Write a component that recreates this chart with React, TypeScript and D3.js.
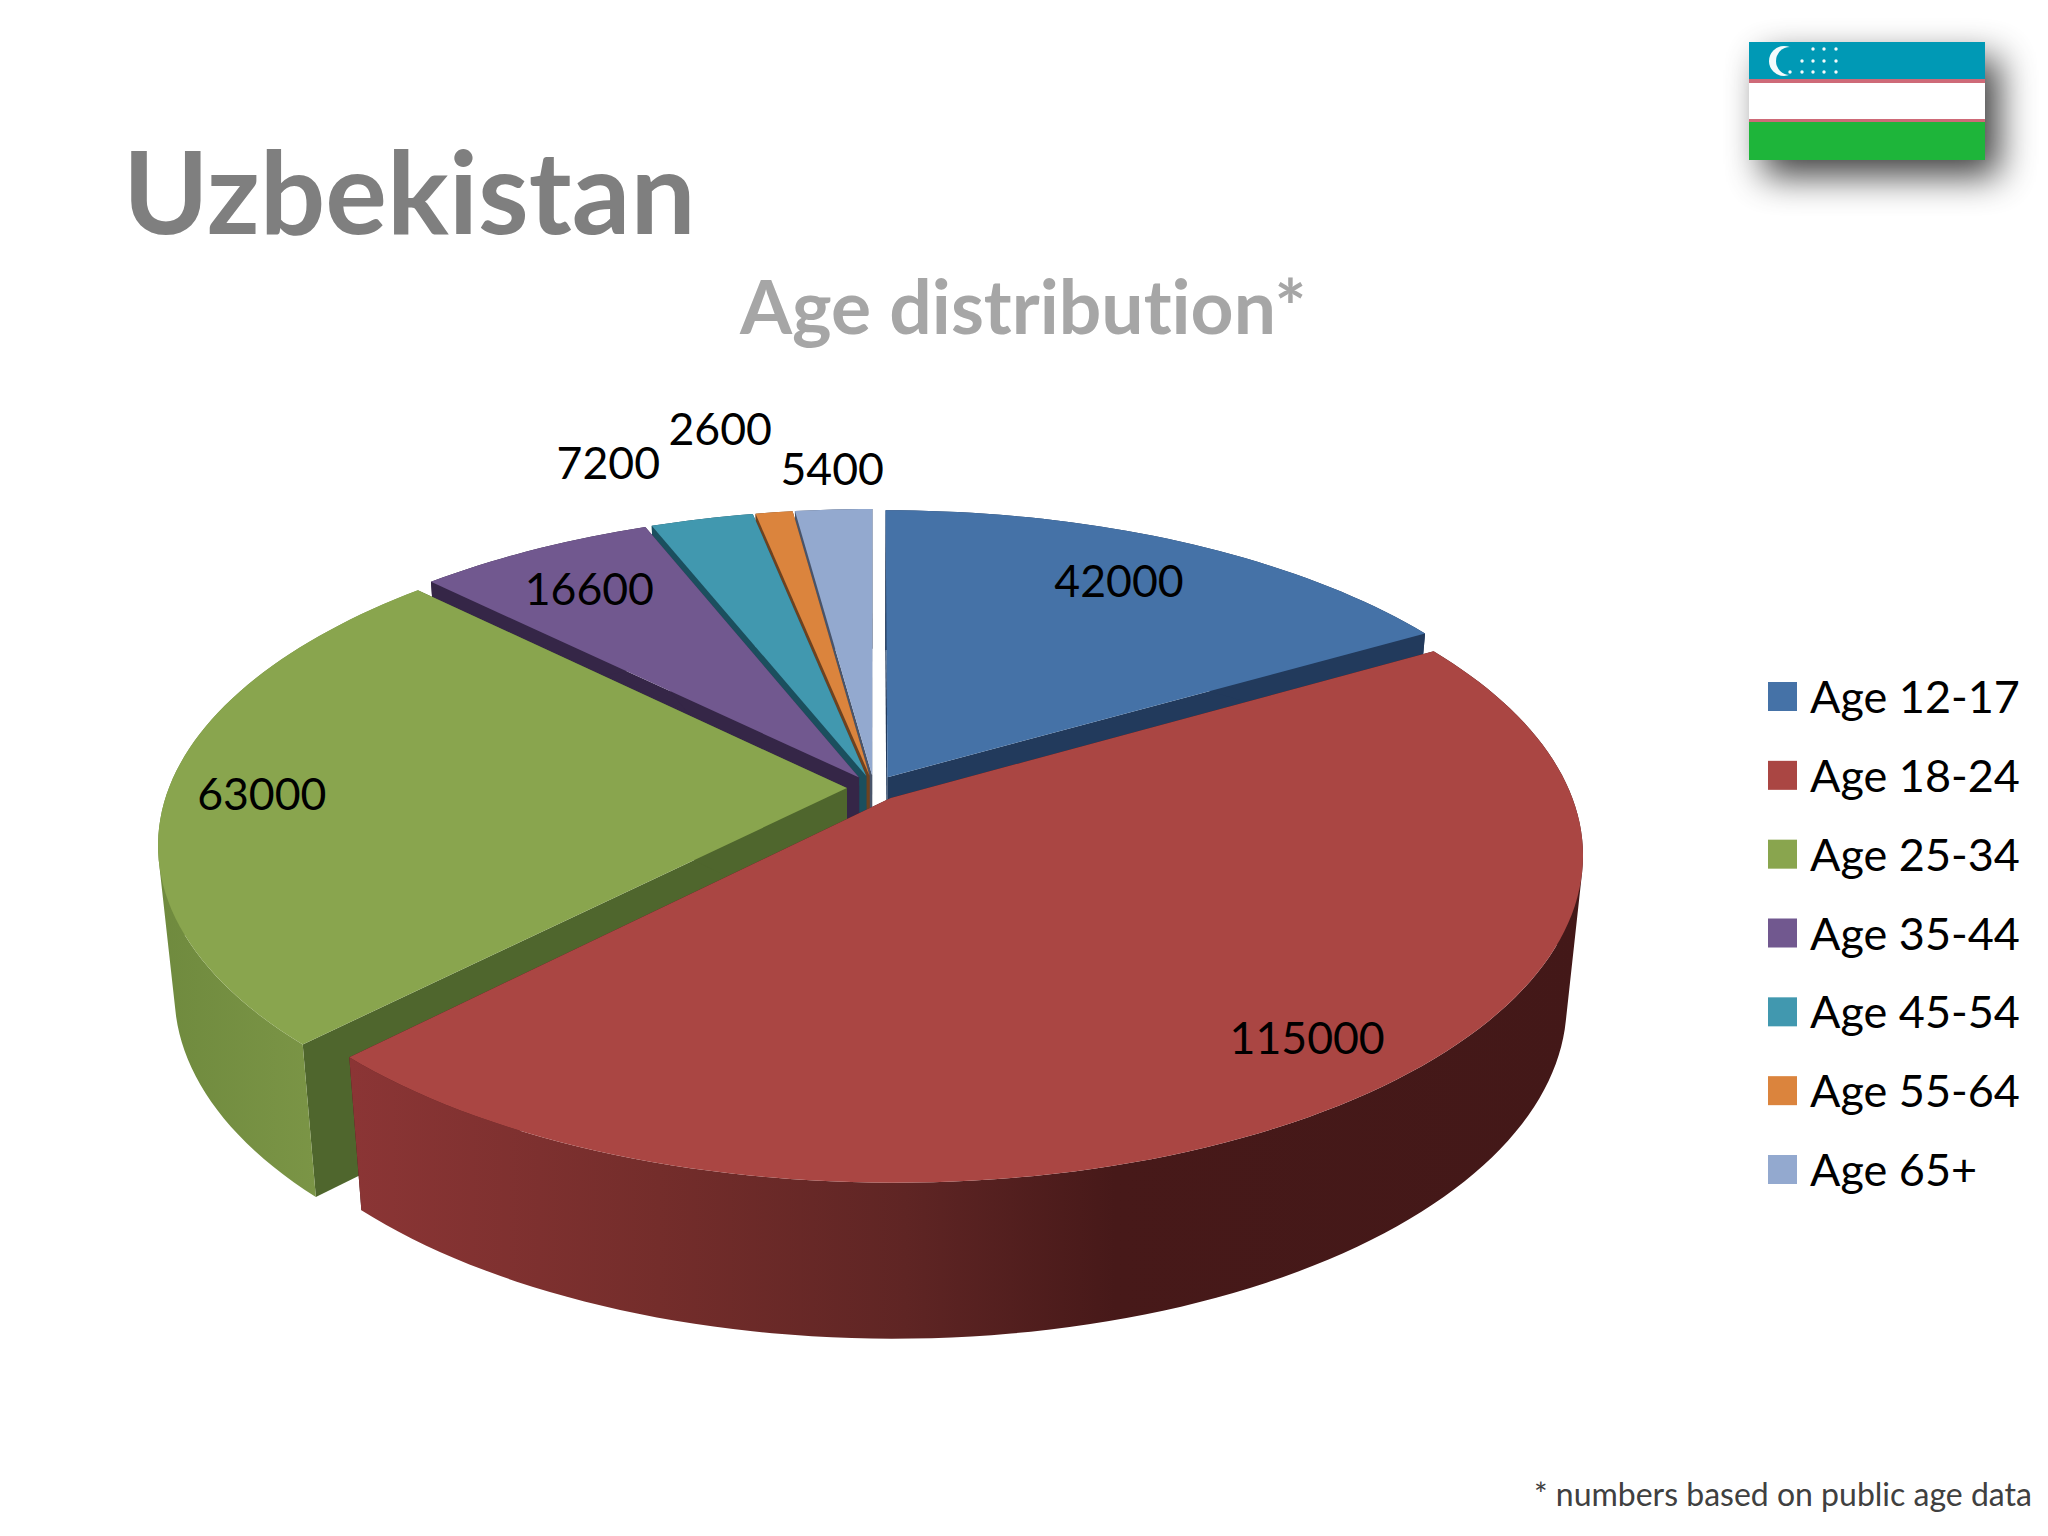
import React from 'react';
import * as d3 from 'd3';

const categories = ['Age 12-17', 'Age 18-24', 'Age 25-34', 'Age 35-44', 'Age 45-54', 'Age 55-64', 'Age 65+'];
const values = [42000, 115000, 63000, 16600, 7200, 2600, 5400];
const topColors = ['#4572a7', '#aa4643', '#89a54e', '#71588f', '#4198af', '#db843d', '#93a9cf'];
const wallColors = ['#223a5c', 'url(#redWall)', 'url(#greenWall)', '#352647', '#1b4f5e', '#6e4220', '#49546a'];
const cutColors = ['#223a5c', '#45181a', '#4f662d', '#352647', '#1b4f5e', '#6e4220', '#49546a'];

// how far along the radius each value label sits, and its nudge from there
const labelPull = [0.82, 0.84, 0.85, 0.82, 1.2, 1.2, 1.2];
const labelNudge = [[-14, 0], [19, -1], [-8, 2], [3, 1], [-66, -14], [-38, -41], [5, 2]];

// back to front, so nearer slices paint over farther ones
const paintOrder = [0, 6, 5, 4, 3, 2, 1];

const FONT = 'Lato, Carlito, Calibri, sans-serif';
const textStyle = { fontVariantLigatures: 'none' };
const cx = 874;
const cy = 788;
const rx = 678;
const ry = 315.6;
const camera = 5.89; // perspective strength of the pie plane
const explode = 0.04;

// pie plane -> screen, top face
const project = (X: number, Y: number): [number, number] => {
  const p = camera / (camera - Y);
  return [cx + rx * X * p, cy + ry * Y * p];
};

// the bottom face is the top one pushed down and pulled in a little
const lower = ([x, y]: [number, number]): [number, number] => [
  cx + (x - cx) * 0.977,
  cy + 146.5 + (y - cy) * 1.024,
];

const arcs = d3.pie<number>().sort(null).value((d) => d)(values);
const line = d3.line();

const slices = arcs.map((a, i) => {
  const mid = (a.startAngle + a.endAngle) / 2;
  const ox = explode * Math.sin(mid);
  const oy = -explode * Math.cos(mid);
  const at = (angle: number, r: number) => project(ox + r * Math.sin(angle), oy - r * Math.cos(angle));
  const steps = Math.max(4, Math.ceil((a.endAngle - a.startAngle) * 40));
  const rim = d3.range(steps + 1).map((s) => at(a.startAngle + ((a.endAngle - a.startAngle) * s) / steps, 1));
  const apex = at(0, 0);
  const top = line([apex, ...rim]) + 'Z';
  // one quad per step, all wound the same way, so the silhouette stays filled
  const outer = rim
    .slice(1)
    .map((pt, k) => {
      const quad: [number, number][] = [rim[k], pt, lower(pt), lower(rim[k])];
      if (d3.polygonArea(quad) < 0) quad.reverse();
      return line(quad) + 'Z';
    })
    .join('');
  const startCut = line([apex, rim[0], lower(rim[0]), lower(apex)]) + 'Z';
  const endCut = line([apex, rim[steps], lower(rim[steps]), lower(apex)]) + 'Z';
  const [lx, ly] = at(mid, labelPull[i]);
  return {
    top,
    outer,
    startCut,
    endCut,
    labelX: lx + labelNudge[i][0],
    labelY: ly + labelNudge[i][1],
  };
});

const legendY = d3.scalePoint<string>().domain(categories).range([696, 1169]);

const starRows = [
  { y: 49, xs: [1813, 1824, 1836] },
  { y: 61, xs: [1802, 1813, 1824, 1836] },
  { y: 72, xs: [1790, 1802, 1813, 1824, 1836] },
];

const Flag = () => (
  <g>
    <rect x={1763} y={58} width={236} height={118} fill="#000" opacity={0.75} filter="url(#flagShadow)" />
    <rect x={1749} y={42} width={236} height={37} fill="#0099b5" />
    <rect x={1749} y={79} width={236} height={4} fill="#ce6a78" />
    <rect x={1749} y={83} width={236} height={36} fill="#fff" />
    <rect x={1749} y={119} width={236} height={3} fill="#ce6a78" />
    <rect x={1749} y={122} width={236} height={38} fill="#1eb53a" />
    <circle cx={1784} cy={61} r={15} fill="#f4fbfc" />
    <circle cx={1790} cy={61} r={14} fill="#0099b5" />
    {starRows.map((row) =>
      row.xs.map((x) => <circle key={`${x}-${row.y}`} cx={x} cy={row.y} r={1.7} fill="#f4fbfc" />)
    )}
  </g>
);

export default function App() {
  return (
    <svg
      width={2048}
      height={1536}
      viewBox="0 0 2048 1536"
      style={{ position: 'absolute', left: 0, top: 0, background: '#fff' }}
    >
      <defs>
        <linearGradient id="redWall" gradientUnits="userSpaceOnUse" x1={352} x2={1583} y1={0} y2={0}>
          <stop offset="0" stopColor="#8b3535" />
          <stop offset="0.25" stopColor="#742d2b" />
          <stop offset="0.45" stopColor="#5f2524" />
          <stop offset="0.62" stopColor="#471919" />
          <stop offset="1" stopColor="#431818" />
        </linearGradient>
        <linearGradient id="greenWall" gradientUnits="userSpaceOnUse" x1={157} x2={320} y1={0} y2={0}>
          <stop offset="0" stopColor="#6f8a3e" />
          <stop offset="1" stopColor="#7b9546" />
        </linearGradient>
        <filter id="flagShadow" x="-30%" y="-60%" width="160%" height="220%">
          <feGaussianBlur stdDeviation="18" />
        </filter>
      </defs>

      <text x={123} y={234} fontFamily={FONT} fontWeight={700} fontSize={115.5} fill="#7f7f7f" style={textStyle}>
        Uzbekistan
      </text>
      <text x={740} y={334} fontFamily={FONT} fontWeight={700} fontSize={75} fill="#a6a6a6" style={textStyle}>
        Age distribution*
      </text>

      <Flag />

      {paintOrder.map((i) => (
        <g key={categories[i]}>
          <path d={slices[i].startCut} fill={cutColors[i]} />
          <path d={slices[i].endCut} fill={cutColors[i]} />
          <path d={slices[i].outer} fill={wallColors[i]} />
          <path d={slices[i].top} fill={topColors[i]} />
        </g>
      ))}

      {values.map((v, i) => (
        <text
          key={categories[i]}
          x={slices[i].labelX}
          y={slices[i].labelY}
          textAnchor="middle"
          dominantBaseline="central"
          fontFamily={FONT}
          fontSize={44.6}
          fill="#000"
        >
          {v}
        </text>
      ))}

      {categories.map((c, i) => (
        <g key={c}>
          <rect x={1768} y={legendY(c)! - 14} width={29} height={29} fill={topColors[i]} />
          <text x={1810} y={legendY(c)!} dominantBaseline="central" fontFamily={FONT} fontSize={45} fill="#000">
            {c}
          </text>
        </g>
      ))}

      <text x={1534} y={1506} fontFamily={FONT} fontSize={32} fill="#404040">
        * numbers based on public age data
      </text>
    </svg>
  );
}
